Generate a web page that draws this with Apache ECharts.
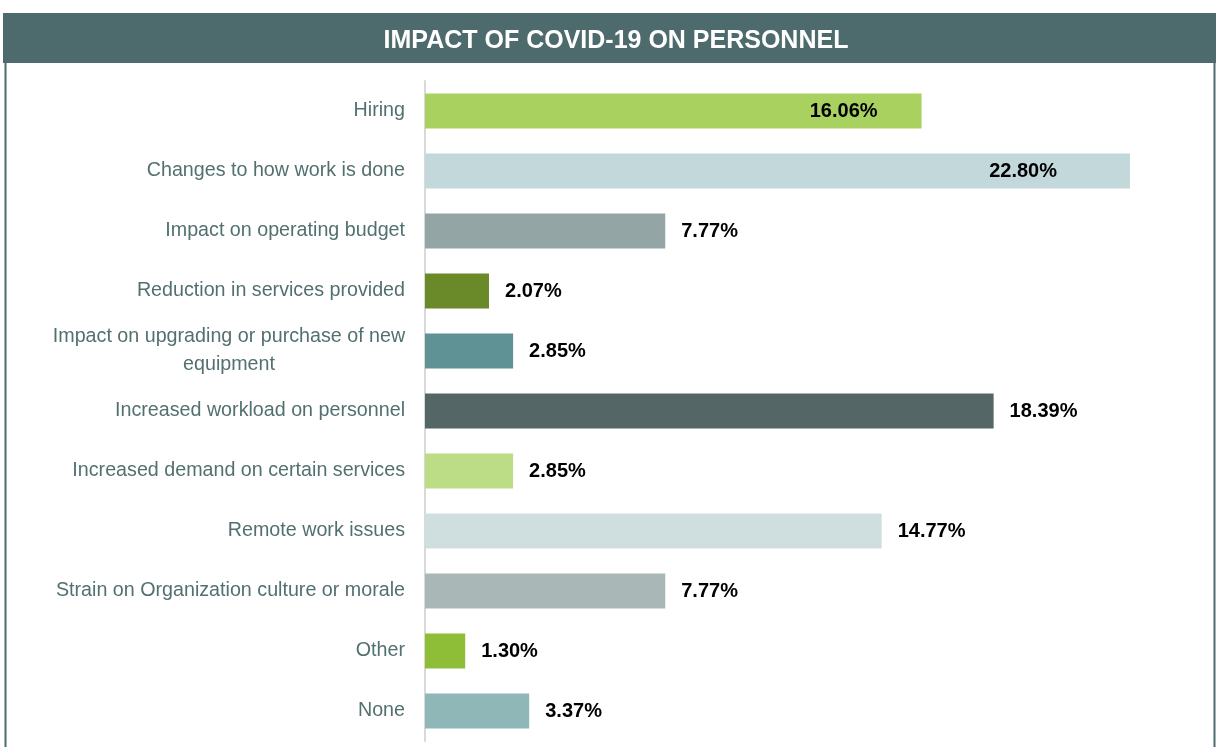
<!DOCTYPE html>
<html>
<head>
<meta charset="utf-8">
<script src="https://cdn.jsdelivr.net/npm/echarts@6/dist/echarts.min.js"></script>
<style>
  html, body { margin: 0; padding: 0; background: #fff; }
  #main { width: 1216px; height: 747px; }
</style>
</head>
<body>
<div id="main"></div>
<script>
  const categories = [
    'Hiring',
    'Changes to how work is done',
    'Impact on operating budget',
    'Reduction in services provided',
    'Impact on upgrading or purchase of new\nequipment',
    'Increased workload on personnel',
    'Increased demand on certain services',
    'Remote work issues',
    'Strain on Organization culture or morale',
    'Other',
    'None'
  ];
  const values = [16.06, 22.80, 7.77, 2.07, 2.85, 18.39, 2.85, 14.77, 7.77, 1.30, 3.37];
  const barColors = ['#a8d160', '#c2d8da', '#93a5a4', '#6a8a2a', '#5f9295', '#546665',
                     '#bcdc85', '#cfdfe0', '#aab7b7', '#8ebd37', '#8fb7b7'];

  const font = '"Liberation Sans", Arial, sans-serif';
  const labelSize = 19.7;
  const chart = echarts.init(document.getElementById('main'));

  // width of the first line of the wrapped label, so its second line can be centred under it
  const ctx = document.createElement('canvas').getContext('2d');
  ctx.font = labelSize + 'px ' + font;
  const wrapW = Math.round(ctx.measureText(categories[4].split('\n')[0]).width);

  // the first two labels sit inside the bar, the rest just past the end
  const insideOffset = [44, 73];

  const option = {
    animation: false,
    title: {
      text: 'IMPACT OF COVID-19 ON PERSONNEL',
      left: 611,
      top: 24,
      textAlign: 'center',
      textStyle: {
        color: '#fff', fontSize: 25, fontWeight: 'bold', fontFamily: font
      }
    },
    graphic: [
      { type: 'rect', shape: { x: 3, y: 13, width: 1213, height: 50 }, style: { fill: '#4d6b6c' }, z: -1 },
      { type: 'line', shape: { x1: 5.5, y1: 63, x2: 5.5, y2: 747 }, style: { stroke: '#4d6b6c', lineWidth: 2 } },
      { type: 'line', shape: { x1: 1214.5, y1: 63, x2: 1214.5, y2: 747 }, style: { stroke: '#4d6b6c', lineWidth: 2 } }
    ],
    grid: { left: 425, right: 18, top: 81, bottom: 6 },
    xAxis: {
      type: 'value', min: 0, max: 25, show: false
    },
    yAxis: {
      type: 'category',
      inverse: true,
      data: categories.map((c, i) => i === 4
        ? { value: c, textStyle: { align: 'center', padding: [0, wrapW, 0, 0] } }
        : c),
      axisLine: { lineStyle: { color: '#d9d9d9', width: 2 } },
      axisTick: { alignWithLabel: true, length: 6, lineStyle: { color: '#d9d9d9', width: 1 } },
      axisLabel: {
        margin: 20, color: '#537070', fontSize: labelSize, fontFamily: font, lineHeight: 28
      }
    },
    series: [{
      type: 'bar',
      barWidth: 35,
      data: values.map((v, i) => ({
        value: v,
        itemStyle: { color: barColors[i] },
        label: i < 2
          ? { position: 'insideRight', distance: insideOffset[i] }
          : { position: 'right', distance: 16 }
      })),
      label: {
        show: true,
        formatter: p => p.value.toFixed(2) + '%',
        color: '#000', fontSize: 20, fontWeight: 'bold', fontFamily: font
      }
    }]
  };

  chart.setOption(option);
</script>
</body>
</html>
